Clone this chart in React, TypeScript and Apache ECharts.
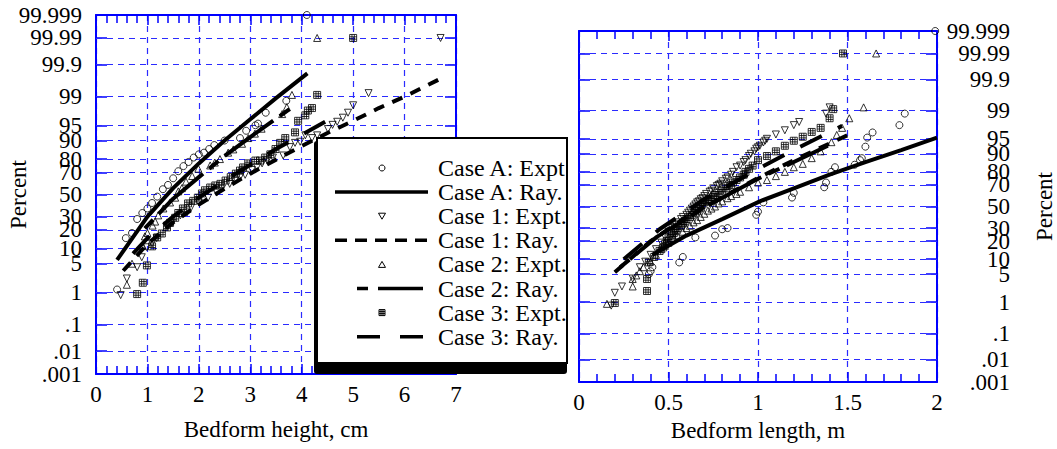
import React, { useEffect, useRef } from "react";
import * as echarts from "echarts";

const FONT = "'Liberation Serif', 'Times New Roman', serif";
const BLUE = "#0000ff";
const GRID_BLUE = "#2b2bff";

const percentTicks = [0.001, 0.01, 0.1, 1, 5, 10, 20, 30, 50, 70, 80, 90, 95, 99, 99.9, 99.99, 99.999];
const percentLabels = [".001", ".01", ".1", "1", "5", "10", "20", "30", "50", "70", "80", "90", "95", "99", "99.9", "99.99", "99.999"];

// ---- Left panel: bedform height (cm) vs cumulative percent ----
const leftCaseAExpt: [number, number][] = [
  [0.41, 1.2], [0.58, 15], [0.7, 18], [0.8, 28], [0.9, 33], [1.0, 37], [1.09, 42], [1.19, 48], [1.3, 55],
  [1.4, 59], [1.5, 65], [1.6, 71], [1.7, 75], [1.8, 78], [1.9, 81], [2.0, 83], [2.1, 84], [2.2, 86],
  [2.3, 88], [2.5, 90], [2.8, 91], [2.92, 93.5], [3.1, 95], [3.15, 95.4], [3.3, 97.4], [3.7, 98.7], [4.1, 99.999],
];
const leftCaseARay: [number, number][] = [
  [0.41, 6], [1, 30], [1.5, 56], [2, 77], [2.5, 90], [3, 96.3], [3.5, 98.9], [4.11, 99.8],
];
const leftCase1Expt: [number, number][] = [
  [0.48, 0.84], [0.6, 2.3], [0.8, 4.2], [0.89, 6.8], [0.99, 10.5], [1.09, 12.3], [1.18, 15], [1.38, 23],
  [1.48, 25], [1.64, 31], [1.77, 33.5], [1.85, 38], [2.0, 42.5], [2.18, 47], [2.35, 52], [2.45, 55.7],
  [2.6, 60], [2.7, 63], [2.8, 66], [2.9, 68], [3.03, 72], [3.13, 74], [3.23, 77], [3.33, 79], [3.44, 81],
  [3.64, 82.3], [3.77, 87], [3.87, 89], [3.97, 89.5], [4.07, 92], [4.2, 91], [4.3, 92], [4.51, 94],
  [4.6, 95.1], [4.69, 95.8], [4.8, 96.6], [4.9, 97.4], [5.0, 98.3], [5.3, 99.2], [6.7, 99.99],
];
const leftCase1Ray: [number, number][] = [
  [0.53, 3.5], [1, 12], [1.5, 25.4], [2, 40.5], [2.5, 55.6], [3, 69], [3.5, 79.6], [4, 87.5],
  [4.5, 92.8], [5, 96], [5.5, 98], [6, 99], [6.73, 99.72],
];
const leftCase2Expt: [number, number][] = [
  [0.6, 1.6], [0.7, 5], [0.9, 11], [0.95, 16], [1.0, 18], [1.1, 23], [1.15, 26], [1.21, 31], [1.31, 37],
  [1.44, 42.5], [1.54, 47], [1.6, 53], [1.67, 56], [1.75, 62], [1.87, 67], [1.99, 73], [2.22, 75.5],
  [2.31, 77.6], [2.41, 80], [2.57, 84], [2.67, 85.8], [2.84, 88.6], [2.96, 91], [3.09, 92.6], [3.22, 94.1],
  [3.62, 97.2], [3.71, 98.1], [3.81, 99.1], [4.3, 99.99],
];
const leftCase2Ray: [number, number][] = [
  [0.95, 21], [1.5, 46], [2, 66], [2.5, 82], [3, 91.4], [3.5, 96.4], [3.87, 98.3],
];
const leftCase3Expt: [number, number][] = [
  [0.8, 0.9], [0.91, 1.8], [0.99, 4.6], [1.09, 10.9], [1.19, 15.4], [1.28, 17.7], [1.38, 21.7], [1.44, 25],
  [1.54, 29], [1.6, 33], [1.69, 37], [1.79, 41.6], [1.89, 44], [1.98, 47], [2.06, 51], [2.12, 54],
  [2.22, 56.6], [2.32, 58.5], [2.42, 60], [2.52, 63], [2.62, 66], [2.72, 69], [2.8, 71.5], [2.86, 74],
  [2.96, 77], [3.1, 79], [3.19, 79], [3.29, 81], [3.39, 83], [3.49, 86], [3.58, 89], [3.68, 91],
  [3.87, 93], [3.93, 96], [4.07, 97], [4.12, 97.7], [4.2, 98], [4.3, 99.1], [5.0, 99.99],
];
const leftCase3Ray: [number, number][] = [
  [0.72, 8], [1, 15], [1.5, 30], [2, 47], [2.5, 63], [3, 76], [3.5, 86], [4, 92.2], [4.6, 96.6],
];

// ---- Right panel: bedform length (m) vs cumulative percent ----
const rightCaseAExpt: [number, number][] = [
  [0.4, 5.8], [0.39, 5], [0.41, 7], [0.56, 8.7], [0.58, 11], [0.65, 22.6], [0.76, 24], [0.8, 29],
  [0.83, 30], [0.99, 42], [1.0, 45], [1.03, 54], [1.19, 58.6], [1.2, 63], [1.37, 68], [1.38, 72],
  [1.41, 80], [1.43, 83], [1.54, 84.5], [1.57, 87], [1.58, 88], [1.6, 92.7], [1.61, 95.3], [1.64, 96.4],
  [1.79, 97.6], [1.82, 98.8], [1.99, 99.999],
];
const rightCaseARay: [number, number][] = [
  [0.41, 12], [0.6, 24], [0.8, 38], [1.01, 55], [1.2, 67], [1.4, 78], [1.6, 86], [1.8, 91.5], [2.0, 95.3],
];
const rightCase1Expt: [number, number][] = [
  [0.18, 0.8], [0.2, 1.8], [0.24, 2.6], [0.3, 4], [0.34, 7], [0.37, 9], [0.4, 12], [0.43, 15], [0.46, 19],
  [0.48, 23], [0.5, 27], [0.52, 30], [0.53, 31], [0.54, 33], [0.55, 35], [0.57, 38], [0.58, 40], [0.6, 42],
  [0.61, 44], [0.62, 46], [0.63, 48], [0.64, 50], [0.65, 52], [0.66, 54], [0.67, 55], [0.68, 57], [0.69, 58],
  [0.7, 60], [0.71, 62], [0.73, 64], [0.74, 65], [0.75, 67], [0.77, 69], [0.78, 70], [0.79, 71], [0.8, 73],
  [0.82, 75], [0.83, 76], [0.85, 78], [0.86, 80], [0.88, 83], [0.9, 84], [0.92, 86], [0.93, 87], [0.95, 89],
  [0.96, 90], [0.98, 91], [0.99, 92], [1.0, 92.5], [1.01, 93], [1.03, 94], [1.04, 94.5], [1.05, 95],
  [1.1, 96], [1.15, 96.8], [1.2, 97.6], [1.23, 98], [1.38, 98.8], [1.4, 99.2],
];
const rightCase1Ray: [number, number][] = [
  [0.2, 5.5], [0.4, 20], [0.6, 40], [0.8, 59], [1.0, 75.5], [1.2, 87], [1.4, 93.7], [1.51, 96],
];
const rightCase2Expt: [number, number][] = [
  [0.156, 0.9], [0.3, 2.6], [0.3, 3.9], [0.32, 4.7], [0.34, 5.8], [0.36, 7], [0.4, 9], [0.43, 12],
  [0.46, 15], [0.48, 17], [0.5, 19], [0.53, 22], [0.55, 24], [0.58, 27], [0.6, 30], [0.62, 32], [0.64, 35],
  [0.66, 37], [0.68, 40], [0.7, 43], [0.72, 46], [0.74, 48], [0.76, 50], [0.78, 53], [0.8, 55], [0.83, 58],
  [0.85, 60], [0.88, 62], [0.9, 64], [0.95, 68], [1.0, 72], [1.05, 74], [1.1, 77], [1.15, 80], [1.2, 83],
  [1.25, 85], [1.3, 88], [1.35, 91], [1.41, 94.1], [1.44, 95.9], [1.47, 97.2], [1.51, 98.4], [1.59, 99.2],
  [1.66, 99.99],
];
const rightCase2Ray: [number, number][] = [
  [0.23, 7], [0.435, 23], [0.7, 49], [1.0, 75], [1.2, 86], [1.39, 93],
];
const rightCase3Expt: [number, number][] = [
  [0.2, 0.95], [0.38, 2], [0.38, 3.9], [0.39, 8.7], [0.42, 11], [0.45, 14], [0.47, 16], [0.48, 18],
  [0.49, 20], [0.5, 22], [0.52, 24], [0.53, 26], [0.54, 28], [0.55, 30], [0.57, 32], [0.58, 34], [0.59, 36],
  [0.6, 38], [0.62, 40], [0.63, 42], [0.65, 44], [0.66, 46], [0.67, 48], [0.68, 50], [0.69, 52], [0.7, 54],
  [0.72, 55], [0.73, 57], [0.75, 59], [0.76, 61], [0.78, 63], [0.8, 65], [0.82, 67], [0.83, 69], [0.85, 70],
  [0.86, 72], [0.88, 74], [0.9, 76], [0.92, 78], [0.93, 80], [0.95, 82], [0.97, 84], [1.0, 87], [1.05, 89],
  [1.1, 91], [1.15, 93], [1.2, 94.5], [1.25, 95.5], [1.3, 96.5], [1.35, 97.2], [1.4, 98.4], [1.42, 99.1],
  [1.475, 99.99],
];
const rightCase3Ray: [number, number][] = [
  [0.25, 10], [0.45, 29], [0.7, 57], [1.0, 82], [1.2, 91.5], [1.47, 97.5],
];

const legendNames = [
  "Case A: Expt", "Case A: Ray.", "Case 1: Expt.", "Case 1: Ray.",
  "Case 2: Expt.", "Case 2: Ray.", "Case 3: Expt.", "Case 3: Ray.",
];

// inverse standard normal CDF (probability-paper scale)
function probit(p: number): number {
  const a = [-3.969683028665376e1, 2.209460984245205e2, -2.759285104469687e2, 1.38357751867269e2, -3.066479806614716e1, 2.506628277459239];
  const b = [-5.447609879822406e1, 1.615858368580409e2, -1.556989798598866e2, 6.680131188771972e1, -1.328068155288572e1];
  const c = [-7.784894002430293e-3, -3.223964580411365e-1, -2.400758277161838, -2.549732539343734, 4.374664141464968, 2.938163982698783];
  const d = [7.784695709041462e-3, 3.224671290700398e-1, 2.445134137142996, 3.754408661907416];
  const plow = 0.02425;
  if (p < plow) {
    const q = Math.sqrt(-2 * Math.log(p));
    return (((((c[0] * q + c[1]) * q + c[2]) * q + c[3]) * q + c[4]) * q + c[5]) / ((((d[0] * q + d[1]) * q + d[2]) * q + d[3]) * q + 1);
  }
  if (p <= 1 - plow) {
    const q = p - 0.5;
    const r = q * q;
    return ((((((a[0] * r + a[1]) * r + a[2]) * r + a[3]) * r + a[4]) * r + a[5]) * q) / (((((b[0] * r + b[1]) * r + b[2]) * r + b[3]) * r + b[4]) * r + 1);
  }
  const q = Math.sqrt(-2 * Math.log(1 - p));
  return -(((((c[0] * q + c[1]) * q + c[2]) * q + c[3]) * q + c[4]) * q + c[5]) / ((((d[0] * q + d[1]) * q + d[2]) * q + d[3]) * q + 1);
}
const zOf = (pct: number) => probit(pct / 100);
const tickZ = percentTicks.map(zOf);
const Z_MIN = tickZ[0];
const Z_MAX = tickZ[tickZ.length - 1];
const innerTickZ = tickZ.slice(1, -1);
const endTickZ = [Z_MIN, Z_MAX];
const pts = (arr: [number, number][]) => arr.map(([x, p]) => [x, zOf(p)]);
const pctLabel = (v: number) => {
  const i = tickZ.findIndex((t) => Math.abs(t - v) < 1e-6);
  return i >= 0 ? percentLabels[i] : "";
};

const SQUARE_GRID = "path://M0,0H9V9H0Z M3,0V9 M6,0V9 M0,3H9 M0,6H9";
const DASH1 = [11, 9];
const DASH2 = [12, 8, 60, 8];
const DASH3 = [24, 18];

function App() {
  const ref = useRef<HTMLDivElement>(null);
  useEffect(() => {
    if (!ref.current) return;
    const chart = echarts.init(ref.current, undefined, { renderer: "svg" });

    const xAxisCommon = (gridIndex: number, position: string, max: number, interval: number, main: boolean, name: string, nameGap: number) => ({
      type: "value",
      gridIndex,
      position,
      min: 0,
      max,
      interval,
      name: main ? name : "",
      nameLocation: "middle",
      nameGap,
      nameMoveOverlap: false,
      nameTextStyle: { fontFamily: FONT, fontSize: 23, color: "#000" },
      axisLine: { show: true, onZero: false, lineStyle: { color: BLUE, width: 2 } },
      axisTick: { show: true, inside: true, length: 10, lineStyle: { color: BLUE, width: 1.5 } },
      minorTick: { show: true, splitNumber: 5, length: 8, lineStyle: { color: BLUE, width: 1.5 } },
      axisLabel: { show: main, margin: 9, fontFamily: FONT, fontSize: 23, color: "#000", showMinLabel: true, showMaxLabel: true },
      splitLine: { show: main, lineStyle: { color: GRID_BLUE, width: 1.2, type: [6, 5] } },
      minorSplitLine: { show: false },
    });

    const yAxisCommon = (gridIndex: number, position: string, labelValues: number[] | null, margin: number, name: string, nameGap: number) => ({
      type: "value",
      gridIndex,
      position,
      min: Z_MIN,
      max: Z_MAX,
      name,
      nameLocation: "middle",
      nameRotate: 90,
      nameGap,
      nameMoveOverlap: false,
      nameTextStyle: { fontFamily: FONT, fontSize: 23, color: "#000" },
      axisLine: { show: true, onZero: false, lineStyle: { color: BLUE, width: 2 } },
      axisTick: { show: true, inside: true, length: 11, customValues: tickZ, lineStyle: { color: BLUE, width: 1.5 } },
      axisLabel: {
        show: !!labelValues,
        customValues: labelValues || tickZ,
        formatter: pctLabel,
        align: "right",
        margin,
        showMinLabel: true,
        showMaxLabel: true,
        hideOverlap: false,
        fontFamily: FONT,
        fontSize: 23,
        color: "#000",
      },
      splitLine: { show: false },
    });

    const gridMarkLine = {
      silent: true,
      symbol: ["none", "none"],
      z: 1,
      label: { show: false },
      emphasis: { disabled: true },
      lineStyle: { color: GRID_BLUE, width: 1.2, type: [6, 5] },
      data: innerTickZ.map((v) => ({ yAxis: v })),
    };

    const scatter = (name: string, data: [number, number][], ax: number, symbol: string, rotate = 0, size = 7) => ({
      type: "scatter",
      name,
      data: pts(data),
      xAxisIndex: ax,
      yAxisIndex: ax,
      symbol,
      symbolRotate: rotate,
      symbolSize: size,
      z: 3,
      itemStyle: { color: "rgba(0,0,0,0)", borderColor: "#000", borderWidth: 1 },
    });
    const line = (name: string, data: [number, number][], ax: number, type: any, markLine?: any) => ({
      type: "line",
      name,
      data: pts(data),
      xAxisIndex: ax,
      yAxisIndex: ax,
      showSymbol: false,
      symbol: "none",
      z: 4,
      lineStyle: { color: "#000", width: 4, type, cap: "butt" },
      ...(markLine ? { markLine } : {}),
    });

    // legend drawn as graphic
    const LX = 317, LY = 138, LW = 250, LH = 225;
    const rowY = (i: number) => 168 + i * 24.1;
    const symX = 382;
    const textX = 438;
    const legendEls: any[] = [
      { type: "rect", z: 100, shape: { x: LX - 3, y: LY + 3, width: LW + 3, height: LH + 8, r: 3 }, style: { fill: "#000" } },
      { type: "rect", z: 101, shape: { x: LX, y: LY, width: LW, height: LH }, style: { fill: "#fff", stroke: "#000", lineWidth: 2 } },
    ];
    legendNames.forEach((n, i) => {
      legendEls.push({
        type: "text", z: 102, x: textX, y: rowY(i),
        style: { text: n, fontFamily: FONT, fontSize: 24, fill: "#000", verticalAlign: "middle", align: "left" },
      });
    });
    const y0 = rowY(0), y2 = rowY(2), y4 = rowY(4), y6 = rowY(6);
    legendEls.push(
      { type: "circle", z: 102, shape: { cx: symX, cy: y0, r: 3 }, style: { fill: "none", stroke: "#000", lineWidth: 1 } },
      { type: "polygon", z: 102, shape: { points: [[symX - 3.5, y2 - 3], [symX + 3.5, y2 - 3], [symX, y2 + 3]] }, style: { fill: "none", stroke: "#000", lineWidth: 1 } },
      { type: "polygon", z: 102, shape: { points: [[symX, y4 - 3], [symX + 3.5, y4 + 3], [symX - 3.5, y4 + 3]] }, style: { fill: "none", stroke: "#000", lineWidth: 1 } },
      { type: "rect", z: 102, shape: { x: symX - 3, y: y6 - 3, width: 6, height: 6 }, style: { fill: "none", stroke: "#000", lineWidth: 1 } },
      { type: "line", z: 102, shape: { x1: symX - 1, y1: y6 - 3, x2: symX - 1, y2: y6 + 3 }, style: { stroke: "#000", lineWidth: 1 } },
      { type: "line", z: 102, shape: { x1: symX + 1, y1: y6 - 3, x2: symX + 1, y2: y6 + 3 }, style: { stroke: "#000", lineWidth: 1 } },
      { type: "line", z: 102, shape: { x1: symX - 3, y1: y6 - 1, x2: symX + 3, y2: y6 - 1 }, style: { stroke: "#000", lineWidth: 1 } },
      { type: "line", z: 102, shape: { x1: symX - 3, y1: y6 + 1, x2: symX + 3, y2: y6 + 1 }, style: { stroke: "#000", lineWidth: 1 } },
      { type: "line", z: 102, shape: { x1: 335, y1: rowY(1), x2: 428, y2: rowY(1) }, style: { stroke: "#000", lineWidth: 3.5 } },
      { type: "line", z: 102, shape: { x1: 335, y1: rowY(3), x2: 428, y2: rowY(3) }, style: { stroke: "#000", lineWidth: 3.5, lineDash: [12, 8] } },
      { type: "line", z: 102, shape: { x1: 357, y1: rowY(5), x2: 423, y2: rowY(5) }, style: { stroke: "#000", lineWidth: 3.5, lineDash: [11, 10, 45, 0] } },
      { type: "line", z: 102, shape: { x1: 357, y1: rowY(7), x2: 423, y2: rowY(7) }, style: { stroke: "#000", lineWidth: 3.5, lineDash: [23, 20] } },
    );

    chart.setOption({
      animation: false,
      backgroundColor: "#fff",
      grid: [
        { left: 96, top: 15, width: 360, height: 359, outerBoundsMode: "none", containLabel: false },
        { left: 579, top: 31, width: 358, height: 351, outerBoundsMode: "none", containLabel: false },
      ],
      xAxis: [
        xAxisCommon(0, "bottom", 7, 1, true, "Bedform height, cm", 44),
        xAxisCommon(0, "top", 7, 1, false, "", 0),
        xAxisCommon(1, "bottom", 2, 0.5, true, "Bedform length, m", 37),
        xAxisCommon(1, "top", 2, 0.5, false, "", 0),
      ],
      yAxis: [
        yAxisCommon(0, "left", tickZ, 14, "Percent", 66),
        yAxisCommon(0, "right", null, 0, "", 0),
        // right panel: inner labels on the right axis, end labels via the left axis mirrored to the right side
        yAxisCommon(1, "right", innerTickZ, 73, "Percent", 96),
        yAxisCommon(1, "left", endTickZ, -431, "", 0),
      ],
      series: [
        line(legendNames[1], leftCaseARay, 0, "solid", gridMarkLine),
        line(legendNames[3], leftCase1Ray, 0, DASH1),
        line(legendNames[5], leftCase2Ray, 0, DASH2),
        line(legendNames[7], leftCase3Ray, 0, DASH3),
        scatter(legendNames[0], leftCaseAExpt, 0, "circle"),
        scatter(legendNames[2], leftCase1Expt, 0, "triangle", 180),
        scatter(legendNames[4], leftCase2Expt, 0, "triangle"),
        scatter(legendNames[6], leftCase3Expt, 0, SQUARE_GRID),
        line(legendNames[1], rightCaseARay, 2, "solid", gridMarkLine),
        line(legendNames[3], rightCase1Ray, 2, DASH1),
        line(legendNames[5], rightCase2Ray, 2, DASH2),
        line(legendNames[7], rightCase3Ray, 2, DASH3),
        scatter(legendNames[0], rightCaseAExpt, 2, "circle"),
        scatter(legendNames[2], rightCase1Expt, 2, "triangle", 180),
        scatter(legendNames[4], rightCase2Expt, 2, "triangle"),
        scatter(legendNames[6], rightCase3Expt, 2, SQUARE_GRID),
      ],
      graphic: { elements: legendEls },
    });
    return () => chart.dispose();
  }, []);
  return <div ref={ref} style={{ position: "absolute", left: 0, top: 0, width: 1057, height: 449 }} />;
}

export default App;
